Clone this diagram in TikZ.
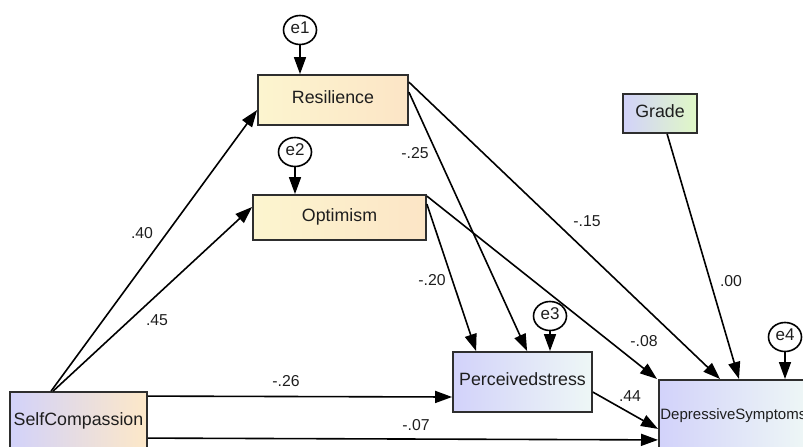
\documentclass[tikz,border=0pt]{standalone}
\usepackage{fontspec}
\setmainfont{Liberation Sans}
\usetikzlibrary{arrows.meta,shapes.geometric}
\definecolor{txt}{HTML}{1E1E1E}
\definecolor{bord}{HTML}{2E2E2E}
\definecolor{yelL}{HTML}{FCF5CF}
\definecolor{yelR}{HTML}{FCE5C6}
\definecolor{lavL}{HTML}{D2D2FA}
\definecolor{peaR}{HTML}{FDE8C8}
\definecolor{cyaR}{HTML}{EEF7F6}
\definecolor{grnR}{HTML}{E0F8C6}
\tikzset{
  box/.style={draw=bord, line width=1.8pt, inner sep=0pt, text=txt,
    text height=0.72em, text depth=0pt,
    font=\fontsize{17.8}{20}\selectfont},
  errnode/.style={draw=black, ellipse, line width=1.6pt, minimum width=33pt,
    minimum height=29pt, inner sep=0pt, text=txt, text height=0.72em, text depth=0pt,
    font=\fontsize{17}{19}\selectfont},
  path/.style={draw=black, line width=1.6pt, -{Triangle[length=17pt,width=12pt]}},
  coef/.style={text=txt, inner sep=0pt, text height=0.72em, text depth=0pt,
    font=\fontsize{15.8}{18}\selectfont}
}
\begin{document}
\begin{tikzpicture}[x=1pt,y=-1pt]
\useasboundingbox (0,0) rectangle (803,447);
\clip (0,0) rectangle (803,447);
% boxes
\node[box, left color=yelL, right color=yelR, minimum width=150pt, minimum height=50pt] (res) at (333,100) {Resilience};
\node[box, left color=yelL, right color=yelR, minimum width=173pt, minimum height=45pt] (opt) at (339.5,217.5) {Optimism};
\node[box, left color=lavL, right color=grnR, minimum width=74pt, minimum height=39pt] (grade) at (660,113.5) {Grade};
\node[box, left color=lavL, right color=cyaR, minimum width=139pt, minimum height=60pt] (ps) at (522.5,382) {Perceivedstress};
\node[box, left color=lavL, right color=peaR, minimum width=137pt, minimum height=60pt] (sc) at (78.5,422) {SelfCompassion};
\node[box, left color=lavL, right color=cyaR, anchor=north west, minimum height=71pt,
  inner xsep=1.5pt, font=\fontsize{15}{17}\selectfont] (ds) at (658,379) {DepressiveSymptoms\hspace{6pt}};
% error terms
\node[errnode] (e1) at (300,30) {e1};
\node[errnode] (e2) at (295,152) {e2};
\node[errnode] (e3) at (550,316) {e3};
\node[errnode] (e4) at (785,337) {e4};
% error arrows
\draw[path] (e1.south) -- (e1.south |- res.north);
\draw[path] (e2.south) -- (e2.south |- opt.north);
\draw[path] (e3.south) -- (e3.south |- ps.north);
\draw[path] (e4.south) -- (e4.south |- ds.north);
% structural paths
\draw[path] ([xshift=42pt]sc.north west) -- ([yshift=-10pt]res.west);
\draw[path] ([xshift=44pt]sc.north west) -- ([yshift=10.5pt]opt.west);
\draw[path] ([yshift=-5pt]sc.north east) -- ([yshift=-15pt]ps.west);
\draw[path] ([yshift=-47pt]sc.north east) -- ([yshift=-24.5pt]ds.west);
\draw[path] ([yshift=-8pt]res.north east) -- ([xshift=62pt]ds.north west);
\draw[path] ([yshift=-18pt]res.north east) -- ([xshift=75pt]ps.north west);
\draw[path] ([yshift=-2pt]opt.north east) -- ([xshift=-1pt]ds.north west);
\draw[path] ([yshift=-10pt]opt.north east) -- ([xshift=24pt]ps.north west);
\draw[path] ([xshift=45pt]grade.south west) -- ([xshift=81pt]ds.north west);
\draw[path] ([yshift=-41pt]ps.north east) -- ([yshift=-13.5pt]ds.west);
% coefficients
\node[coef] (c1) at (142,235) {.40};
\node[coef] (c2) at (157,322) {.45};
\node[coef] (c3) at (286,383) {-.26};
\node[coef] (c4) at (416,427) {-.07};
\node[coef] (c5) at (415,155) {-.25};
\node[coef] (c6) at (432,282) {-.20};
\node[coef] (c7) at (587,223) {-.15};
\node[coef] (c8) at (731,283) {.00};
\node[coef] (c9) at (644,343) {-.08};
\node[coef] (c10) at (630,398) {.44};
\end{tikzpicture}
\end{document}
